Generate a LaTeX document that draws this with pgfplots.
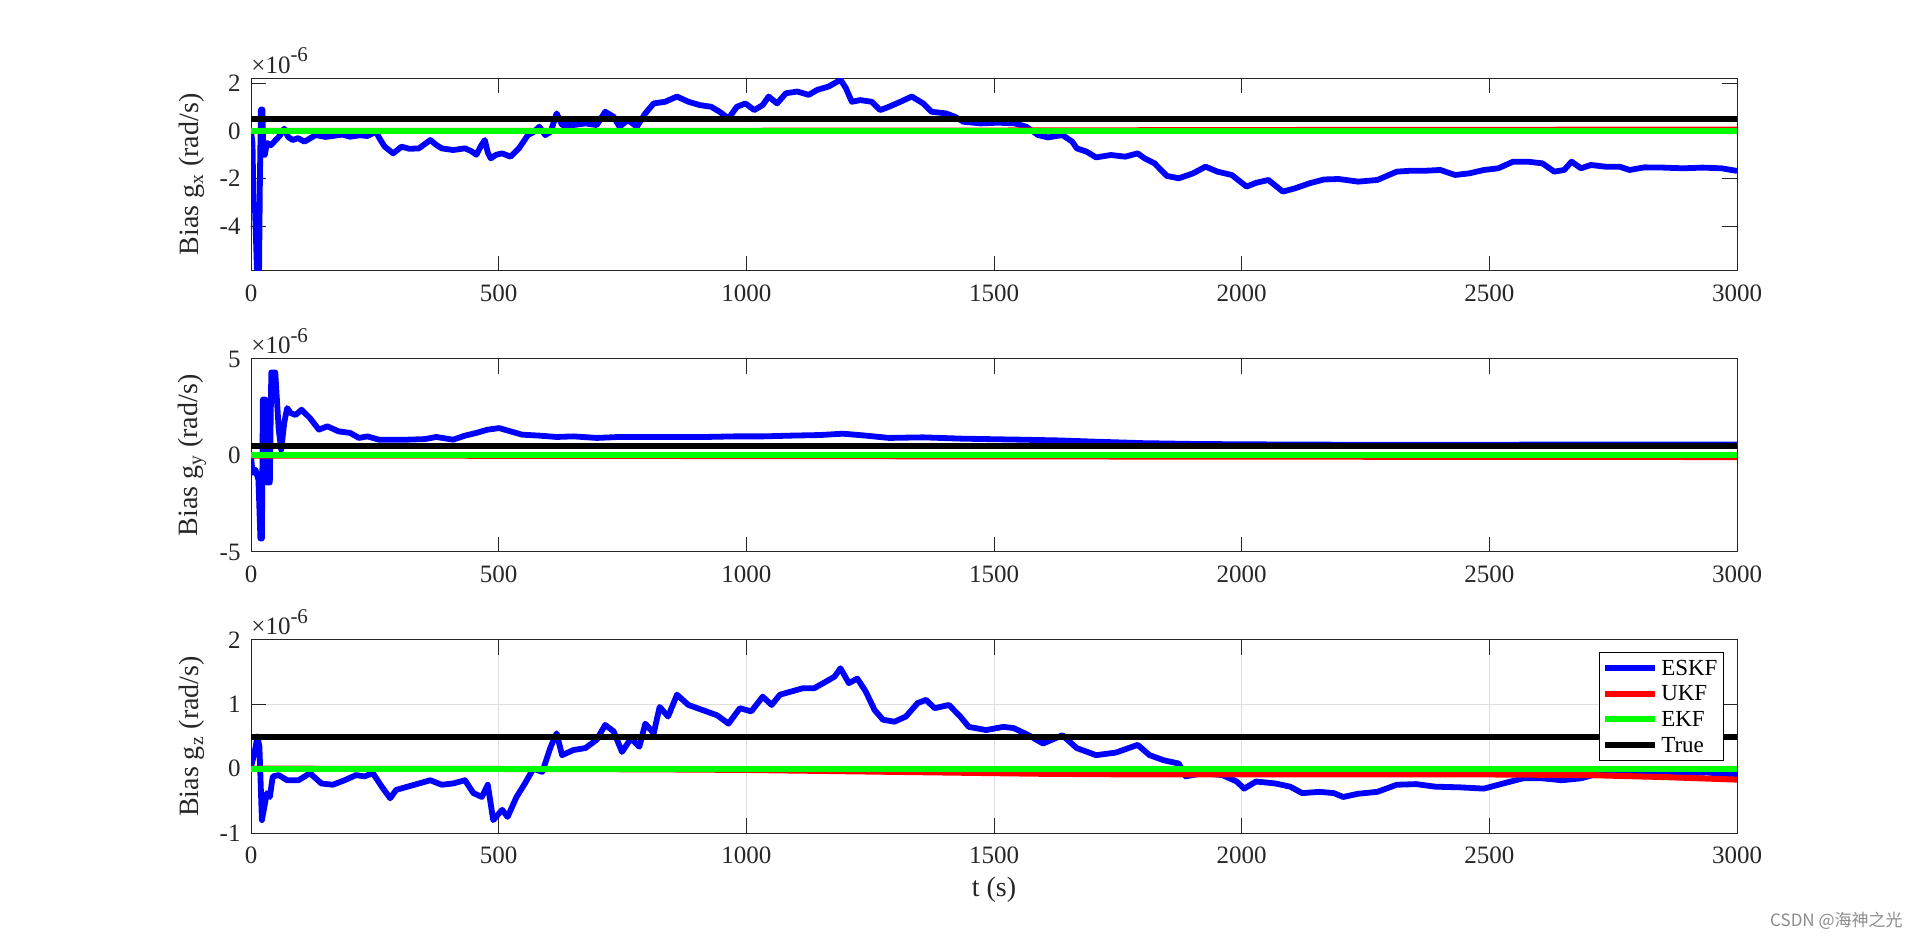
\documentclass[border=0pt]{standalone}
\usepackage{fontspec}
\setmainfont{Liberation Serif}
\newfontfamily\cjk{Noto Sans CJK SC}
\usepackage{pgfplots}
\usepackage{pgfplotstable}
\pgfplotsset{compat=1.18}
\definecolor{axgray}{RGB}{38,38,38}
\definecolor{mblue}{RGB}{0,0,255}
\definecolor{mred}{RGB}{255,0,0}
\definecolor{mgreen}{RGB}{0,255,0}

\pgfplotstableread{
t v
0 0
3 -0.5
5 -3.0
8 -3.2
10 -4.5
13 -6.5
16 -6.5
18 -2.0
20 0.9
23 0.9
25 -1.0
28 -1.0
32 -0.5
40 -0.6
50 -0.38
58 -0.2
67 0.1
75 -0.25
84 -0.38
95 -0.3
108 -0.45
120 -0.3
131 -0.17
150 -0.25
165 -0.21
185 -0.15
200 -0.24
220 -0.18
235 -0.21
252 -0.03
262 -0.4
270 -0.66
287 -0.94
304 -0.66
320 -0.75
339 -0.73
362 -0.38
375 -0.6
385 -0.73
408 -0.8
432 -0.73
445 -0.85
455 -1.0
465 -0.6
472 -0.38
478 -0.9
484 -1.15
495 -1.0
507 -0.94
524 -1.08
541 -0.73
559 -0.17
570 -0.05
582 0.18
594 -0.17
605 -0.03
617 0.74
628 0.25
651 0.25
675 0.32
698 0.25
715 0.81
732 0.6
744 0.18
761 0.46
779 0.18
796 0.74
813 1.16
836 1.23
860 1.45
883 1.23
906 1.09
929 1.02
946 0.81
964 0.53
981 1.02
998 1.16
1016 0.88
1033 1.09
1045 1.45
1062 1.16
1080 1.59
1103 1.66
1126 1.52
1143 1.73
1166 1.87
1190 2.15
1195 2.0
1201 1.8
1213 1.23
1230 1.3
1253 1.23
1270 0.88
1288 1.02
1311 1.23
1334 1.45
1357 1.16
1374 0.81
1403 0.74
1421 0.6
1438 0.39
1473 0.32
1508 0.35
1542 0.32
1565 0.18
1589 -0.17
1609 -0.27
1638 -0.17
1658 -0.45
1667 -0.73
1687 -0.87
1706 -1.11
1736 -1.01
1765 -1.08
1790 -0.94
1804 -1.15
1824 -1.36
1849 -1.89
1873 -1.99
1902 -1.78
1927 -1.5
1951 -1.71
1980 -1.85
2010 -2.34
2029 -2.18
2054 -2.06
2083 -2.55
2108 -2.41
2137 -2.2
2166 -2.04
2196 -2.02
2235 -2.13
2274 -2.06
2313 -1.71
2342 -1.67
2372 -1.67
2401 -1.64
2431 -1.85
2460 -1.78
2489 -1.64
2518 -1.57
2548 -1.29
2577 -1.29
2607 -1.36
2631 -1.71
2651 -1.64
2666 -1.29
2685 -1.57
2705 -1.43
2734 -1.5
2763 -1.5
2783 -1.64
2813 -1.53
2852 -1.54
2891 -1.57
2930 -1.54
2969 -1.57
3000 -1.68
}\eskfx

\pgfplotstableread{
t v
0 0
3 -0.9
9 -0.74
15 -1.25
19 -4.3
22 -4.3
24 2.9
29 2.9
32 -1.4
38 -1.4
41 4.3
49 4.3
56 1.34
61 0.3
67 1.68
73 2.46
80 2.2
90 2.1
102 2.37
119 1.94
137 1.34
154 1.51
177 1.25
200 1.17
218 0.91
235 0.99
258 0.82
281 0.82
316 0.82
351 0.85
374 0.96
408 0.82
432 1.03
455 1.17
478 1.34
501 1.42
524 1.25
547 1.08
582 1.03
617 0.96
651 0.99
698 0.91
744 0.96
802 0.96
860 0.96
918 0.96
975 0.99
1033 0.99
1091 1.03
1149 1.06
1195 1.13
1241 1.03
1288 0.91
1357 0.94
1438 0.87
1554 0.82
1632 0.78
1700 0.72
1800 0.64
1900 0.6
2000 0.58
2200 0.56
2500 0.56
2800 0.57
3000 0.57
}\eskfy

\pgfplotstableread{
t v
0 0.03
7 0.24
13 0.5
17 0.34
22 -0.8
27 -0.59
32 -0.38
38 -0.44
44 -0.12
56 -0.1
73 -0.18
96 -0.18
119 -0.07
142 -0.23
165 -0.25
189 -0.18
212 -0.1
229 -0.12
246 -0.07
264 -0.28
281 -0.46
293 -0.33
316 -0.28
339 -0.23
362 -0.18
385 -0.25
408 -0.23
432 -0.18
449 -0.38
466 -0.44
478 -0.25
489 -0.8
507 -0.64
518 -0.75
536 -0.44
553 -0.23
570 0
588 -0.05
605 0.34
617 0.55
628 0.21
651 0.29
675 0.32
698 0.45
715 0.68
732 0.58
749 0.26
767 0.47
784 0.34
796 0.7
813 0.55
825 0.96
842 0.81
860 1.15
883 0.99
912 0.91
941 0.83
964 0.7
987 0.94
1010 0.89
1033 1.12
1051 0.99
1068 1.15
1091 1.2
1114 1.25
1137 1.25
1160 1.35
1178 1.43
1190 1.56
1207 1.33
1224 1.4
1241 1.2
1259 0.91
1276 0.76
1299 0.73
1322 0.81
1346 1.02
1363 1.07
1380 0.94
1409 0.99
1432 0.81
1449 0.65
1484 0.6
1519 0.65
1540 0.63
1570 0.52
1599 0.39
1638 0.52
1667 0.32
1706 0.21
1746 0.25
1790 0.37
1814 0.21
1843 0.13
1873 0.08
1887 -0.12
1922 -0.07
1961 -0.1
1990 -0.2
2005 -0.31
2029 -0.2
2068 -0.23
2098 -0.28
2122 -0.38
2157 -0.36
2186 -0.38
2205 -0.44
2235 -0.39
2274 -0.36
2313 -0.25
2352 -0.24
2391 -0.28
2440 -0.29
2489 -0.31
2528 -0.23
2568 -0.15
2607 -0.15
2646 -0.18
2685 -0.15
2724 -0.07
2783 -0.05
2832 -0.06
2881 -0.07
2940 -0.06
3000 -0.1
}\eskfz

\pgfplotsset{
  myax/.style={
    scale only axis, width=743pt, height=96.5pt, anchor=south west,
    xmin=0, xmax=3000, xtick={0,500,...,3000},
    tick align=inside, major tick length=7.5pt,
    axis line style={axgray, line width=0.5pt},
    every tick/.style={axgray, line width=0.5pt},
    tick label style={font=\fontsize{12.5}{13}\selectfont, text=axgray},
    /pgf/number format/assume math mode=true,
    /pgf/number format/1000 sep={},
    xticklabel style={yshift=-3.5pt},
    yticklabel style={xshift=-1.7pt},
    ylabel style={at={(axis description cs:-0.0397,0.5)}, anchor=center, font=\fontsize{14}{15}\selectfont, text=axgray},
    clip mode=individual,
    scaled y ticks=false,
  },
  eskf/.style={mblue, line width=2.9pt, line join=round},
  ukf/.style={mred, line width=3pt},
  ekf/.style={mgreen, line width=3pt},
  truth/.style={black, line width=3pt},
}
\newcommand{\expnode}{\node[anchor=base west, inner sep=0pt, yshift=2.5pt, font=\fontsize{12.5}{13}\selectfont, text=axgray] at (rel axis cs:0,1) {×10\raisebox{5.5pt}{\fontsize{10.5}{11}\selectfont -6}};}

\begin{document}
\begin{tikzpicture}
\path[use as bounding box] (0,0) rectangle (960pt,468.5pt);

\begin{axis}[myax, at={(125.5pt,333pt)}, ymin=-5.89, ymax=2.23, ytick={-4,-2,0,2},
  ylabel={Bias g\textsubscript{x} (rad/s)}]
\addplot[eskf] table[x=t,y=v] {\eskfx};
\addplot[ukf] coordinates {(0,0) (500,0.005) (1000,0.01) (1500,0.02) (2000,0.04) (2500,0.05) (3000,0.06)};
\addplot[ekf] coordinates {(0,0) (3000,0)};
\addplot[truth] coordinates {(0,0.5) (3000,0.5)};
\expnode
\end{axis}

\begin{axis}[myax, at={(125.5pt,192.5pt)}, ymin=-5, ymax=5, ytick={-5,0,5},
  ylabel={Bias g\textsubscript{y} (rad/s)}]
\addplot[eskf] table[x=t,y=v] {\eskfy};
\addplot[ukf] coordinates {(0,0) (1000,-0.03) (2000,-0.06) (3000,-0.08)};
\addplot[ekf] coordinates {(0,0) (3000,0)};
\addplot[truth] coordinates {(0,0.5) (3000,0.5)};
\expnode
\end{axis}

\begin{axis}[myax, at={(125.5pt,52pt)}, ymin=-1, ymax=2, ytick={-1,0,1,2},
  grid=major, grid style={black!13, line width=0.5pt},
  ylabel={Bias g\textsubscript{z} (rad/s)},
  xlabel={t (s)},
  xlabel style={at={(axis description cs:0.5,-0.2953)}, anchor=center, font=\fontsize{14}{15}\selectfont, text=axgray},
  legend style={at={(axis description cs:0.99125,0.9378)}, anchor=north east, draw=black, line width=0.5pt, fill=white,
    font=\fontsize{11.5}{11.5}\selectfont, inner xsep=1.5pt, inner ysep=2pt, row sep=1.6pt,
    nodes={inner ysep=1.5pt, inner xsep=1.5pt, text height=7.8pt, text depth=0.5pt}},
  legend cell align=left,
  legend image code/.code={\draw[#1, line width=3pt] (0pt,0pt) -- (25pt,0pt);}]
\addplot[eskf] table[x=t,y=v] {\eskfz};
\addlegendentry{ESKF}
\addplot[ukf] coordinates {(0,0) (500,-0.005) (800,-0.01) (1000,-0.02) (1200,-0.04) (1400,-0.06) (1600,-0.08) (1800,-0.09) (2000,-0.09) (2300,-0.09) (2500,-0.09) (2700,-0.1) (2850,-0.13) (3000,-0.17)};
\addlegendentry{UKF}
\addplot[ekf] coordinates {(0,0) (3000,0)};
\addlegendentry{EKF}
\addplot[truth] coordinates {(0,0.5) (3000,0.5)};
\addlegendentry{True}
\expnode
\end{axis}

\node[anchor=east, inner sep=0pt, text=black!45, font=\cjk\fontsize{8.5}{9}\selectfont] at (951.5pt,8pt) {CSDN @海神之光};
\end{tikzpicture}
\end{document}
